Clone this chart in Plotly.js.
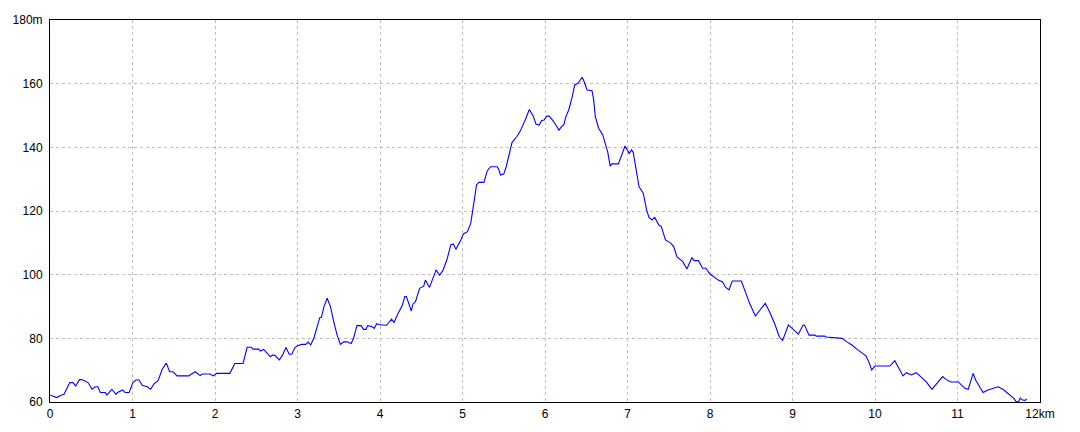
<!DOCTYPE html>
<html>
<head>
<meta charset="utf-8">
<script src="https://cdn.plot.ly/plotly-3.0.1.min.js"></script>
<style>html,body{margin:0;padding:0;background:#fff;}#chart{width:1080px;height:432px;}</style>
</head>
<body>
<div id="chart"></div>
<script>
const distanceKm = [0.00,0.08,0.14,0.17,0.24,0.28,0.31,0.36,0.40,0.46,0.51,0.55,0.58,0.61,0.67,0.69,0.75,0.80,0.82,0.88,0.91,0.96,
1.00,1.04,1.08,1.12,1.15,1.18,1.22,1.26,1.31,1.36,1.41,1.45,1.49,1.54,1.68,1.76,1.82,1.85,1.94,1.98,
2.02,2.18,2.24,2.34,2.39,2.44,2.46,2.53,2.55,2.59,2.67,2.70,2.73,2.78,2.82,2.86,2.90,2.93,2.97,
3.00,3.05,3.10,3.13,3.16,3.20,3.24,3.27,3.29,3.32,3.36,3.40,3.44,3.48,3.52,3.56,3.60,3.65,3.68,3.72,3.77,3.80,3.83,3.85,3.90,3.93,3.96,
4.01,4.05,4.08,4.14,4.17,4.22,4.27,4.30,4.32,4.38,4.40,4.43,4.48,4.53,4.55,4.60,4.63,4.68,4.72,4.76,4.81,4.86,4.89,4.92,4.98,
5.01,5.06,5.10,5.13,5.17,5.20,5.26,5.30,5.34,5.42,5.44,5.46,5.50,5.53,5.56,5.60,5.66,5.70,5.76,5.81,5.86,5.89,5.93,5.96,5.99,
6.02,6.05,6.09,6.14,6.17,6.20,6.23,6.25,6.29,6.33,6.36,6.40,6.42,6.45,6.47,6.51,6.57,6.59,6.61,6.65,6.70,6.73,6.76,6.79,6.81,6.89,6.93,6.97,
7.02,7.05,7.07,7.10,7.14,7.19,7.23,7.26,7.30,7.33,7.38,7.41,7.46,7.52,7.56,7.60,7.67,7.72,7.78,7.81,7.86,7.91,7.95,
8.00,8.06,8.10,8.15,8.19,8.23,8.27,8.38,8.42,8.48,8.55,8.61,8.67,8.73,8.79,8.84,8.88,8.95,
9.01,9.07,9.13,9.15,9.20,9.27,9.29,9.39,9.41,9.54,9.60,9.66,9.72,9.78,9.82,9.89,9.93,9.96,
10.00,10.18,10.24,10.30,10.34,10.38,10.44,10.50,10.55,10.62,10.69,10.76,10.82,10.86,10.92,
11.01,11.05,11.09,11.13,11.16,11.19,11.22,11.26,11.31,11.37,11.42,11.49,11.55,11.61,11.68,11.71,11.74,11.76,11.79,11.82,11.84];

const elevationM = [62.2,61.4,62.2,62.4,66.1,66.1,65.0,67.1,66.9,66.1,64.0,64.8,64.8,63.0,63.0,62.2,64.0,62.4,63.0,63.8,63.0,63.0,
65.9,66.9,66.9,65.2,65.0,64.8,64.0,65.7,66.7,70.3,72.2,69.5,69.5,68.2,68.2,69.5,68.3,68.8,68.8,68.2,
69.0,69.0,72.1,72.1,77.2,77.2,76.6,76.6,76.0,76.5,74.2,74.8,74.5,73.2,74.8,77.1,75.0,75.0,77.1,
77.7,78.1,78.1,78.8,77.9,80.2,84.2,86.5,86.6,89.9,92.6,89.9,85.2,81.0,78.1,78.9,78.9,78.4,80.0,84.0,84.0,82.8,82.8,84.0,83.7,83.1,84.6,
84.2,84.2,84.1,86.0,85.0,87.9,90.3,93.1,93.1,88.6,90.8,91.5,95.7,96.4,98.3,96.0,98.3,101.5,99.9,101.2,104.6,109.5,109.6,108.0,110.9,
112.8,113.5,116.1,121.3,128.2,129.0,129.0,132.6,133.9,133.9,133.1,131.3,131.6,133.9,137.6,141.5,143.4,145.1,148.6,151.9,149.7,147.3,147.0,148.4,148.6,
149.8,149.8,148.6,146.7,145.4,146.5,147.2,149.4,151.9,155.9,159.6,160.1,160.9,162.0,160.9,158.0,157.8,154.9,149.6,146.0,143.9,141.3,138.6,134.1,134.8,134.8,137.6,140.4,
138.1,139.2,138.3,133.4,127.6,125.7,120.5,118.0,117.2,118.0,115.6,115.1,110.9,110.0,108.8,105.6,104.1,101.8,105.3,104.4,104.4,102.0,102.0,
100.2,98.9,98.3,97.8,96.0,95.2,98.0,98.0,95.2,91.0,87.0,88.9,91.0,87.9,84.2,80.5,79.3,84.2,
82.6,81.3,84.2,84.0,81.0,81.0,80.7,80.7,80.4,80.2,80.0,78.9,77.9,76.6,75.8,74.5,72.3,70.1,
71.3,71.3,73.0,70.1,68.2,69.2,68.5,69.2,68.0,66.4,64.0,66.1,68.0,67.1,66.3,
66.3,65.3,64.3,64.0,66.9,69.0,66.9,65.3,63.0,63.8,64.3,64.8,64.0,62.7,61.2,60.1,60.1,61.2,60.6,60.5,61.0];

const xTickVals = [0,1,2,3,4,5,6,7,8,9,10,11,12];
const xTickText = ["0","1","2","3","4","5","6","7","8","9","10","11","12km"];
const yTickVals = [60,80,100,120,140,160,180];
const yTickText = ["60","80","100","120","140","160","180m"];

const trace = {
  x: distanceKm, y: elevationM, type: 'scatter', mode: 'lines',
  line: {color: '#0000ff', width: 1.1, shape: 'linear'},
  hoverinfo: 'skip'
};

const axisCommon = {
  showgrid: true, gridcolor: '#bdbdbd', griddash: '3px,3px', gridwidth: 1,
  zeroline: false, showline: true, linecolor: '#000', linewidth: 1, mirror: true,
  ticks: '', tickfont: {family: 'Liberation Sans, Arial, sans-serif', size: 12, color: '#000'},
  fixedrange: true
};

const layout = {
  width: 1080, height: 432,
  margin: {l: 50, r: 40, t: 20, b: 30},
  paper_bgcolor: '#fff', plot_bgcolor: '#fff',
  showlegend: false,
  xaxis: Object.assign({}, axisCommon, {range: [0, 12], tickmode: 'array', tickvals: xTickVals, ticktext: xTickText, ticklabelstandoff: 1}),
  yaxis: Object.assign({}, axisCommon, {range: [60, 180], tickmode: 'array', tickvals: yTickVals, ticktext: yTickText, ticklabelstandoff: 4})
};

Plotly.newPlot('chart', [trace], layout, {displayModeBar: false, staticPlot: true});
</script>
</body>
</html>
